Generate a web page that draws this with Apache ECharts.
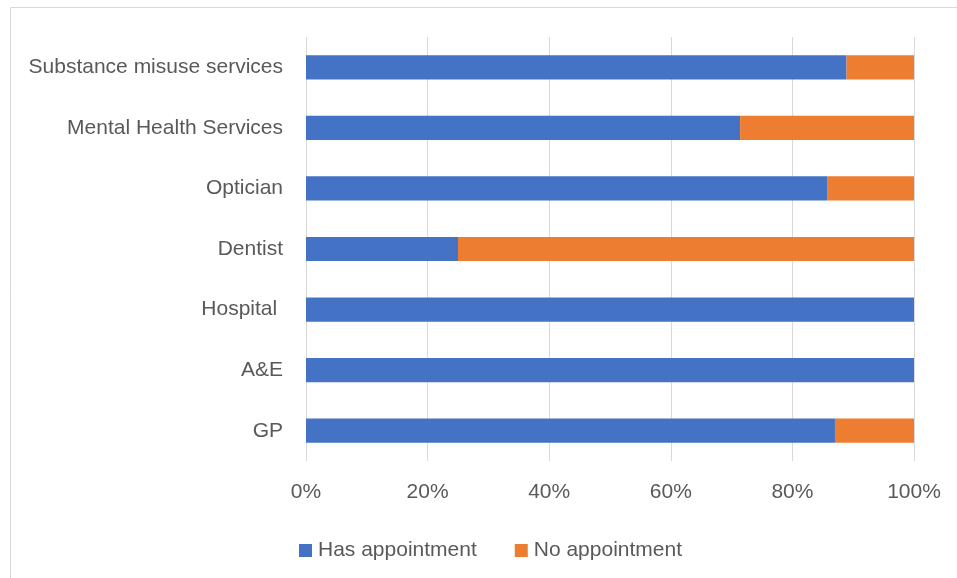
<!DOCTYPE html>
<html>
<head>
<meta charset="utf-8">
<script src="https://cdn.jsdelivr.net/npm/echarts@6/dist/echarts.min.js"></script>
<style>
  html, body { margin: 0; padding: 0; background: #fff; }
  #chart { width: 957px; height: 578px; }
</style>
</head>
<body>
<div id="chart"></div>
<script>
// Services, listed bottom-to-top as the category axis draws them
const categories = ['GP', 'A&E', 'Hospital ', 'Dentist', 'Optician', 'Mental Health Services', 'Substance misuse services'];
// Share of respondents (%) with / without an appointment
const hasAppointment = [87, 100, 100, 25, 85.7, 71.4, 88.9];
const noAppointment = [13, 0, 0, 75, 14.3, 28.6, 11.1];
const xTicks = [0, 20, 40, 60, 80, 100];

const FONT = 'Liberation Sans';
const chart = echarts.init(document.getElementById('chart'), null, { renderer: 'canvas' });

chart.setOption({
  backgroundColor: '#ffffff',
  animation: false,
  textStyle: { fontFamily: FONT },
  graphic: [{
    type: 'rect',
    shape: { x: 10.5, y: 7.5, width: 960, height: 600 },
    style: { fill: 'none', stroke: '#d9d9d9', lineWidth: 1 },
    silent: true
  }],
  grid: { left: 306, right: 43, top: 37, bottom: 117 },
  legend: {
    left: 294,
    top: 535,
    itemWidth: 13,
    itemHeight: 13,
    itemGap: 38,
    icon: 'rect',
    textStyle: { color: '#595959', fontSize: 21, fontFamily: FONT, padding: [0, 0, 0, 1] },
    data: ['Has appointment', 'No appointment']
  },
  xAxis: {
    type: 'value',
    min: xTicks[0],
    max: xTicks[xTicks.length - 1],
    interval: 20,
    axisLine: { show: false },
    axisTick: { show: false },
    splitLine: { show: true, lineStyle: { color: '#d9d9d9', width: 1 } },
    axisLabel: {
      color: '#595959',
      fontSize: 21,
      fontFamily: FONT,
      margin: 21,
      formatter: v => v + '%'
    }
  },
  yAxis: {
    type: 'category',
    data: categories,
    axisLine: { show: false },
    axisTick: { show: false },
    splitLine: { show: false },
    axisLabel: {
      color: '#595959',
      fontSize: 21,
      fontFamily: FONT,
      margin: 23
    }
  },
  series: [
    {
      name: 'Has appointment',
      type: 'bar',
      stack: 'total',
      barWidth: '40%',
      itemStyle: { color: '#4472c4' },
      data: hasAppointment
    },
    {
      name: 'No appointment',
      type: 'bar',
      stack: 'total',
      barWidth: '40%',
      itemStyle: { color: '#ed7d31' },
      data: noAppointment
    }
  ]
});
</script>
</body>
</html>
